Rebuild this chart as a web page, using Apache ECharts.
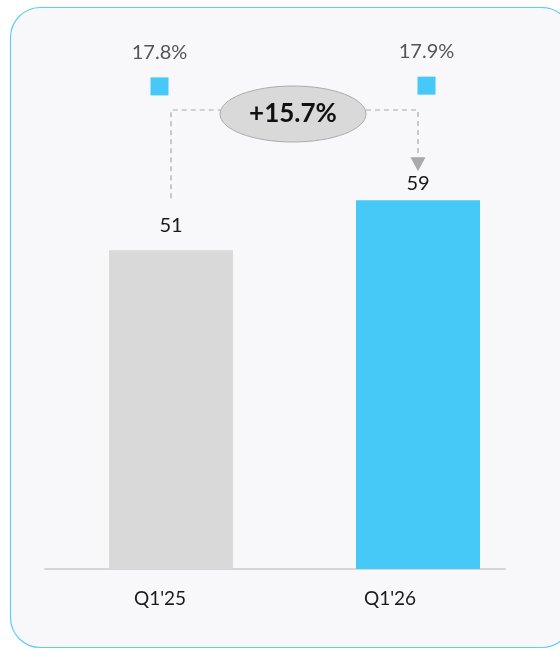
<!DOCTYPE html>
<html>
<head>
<meta charset="utf-8">
<script src="https://cdn.jsdelivr.net/npm/echarts@6/dist/echarts.min.js"></script>
<style>
  html, body { margin: 0; padding: 0; background: #ffffff; }
  #chart { width: 560px; height: 649px; }
</style>
</head>
<body>
<div id="chart"></div>
<script>
// Quarterly values and margin percentages
const categories = ["Q1'25", "Q1'26"];
const values = [51, 59];
const margins = [17.8, 17.9];
const growthLabel = '+15.7%';

const FONT = 'Lato';
const BLUE = '#46c9f6';
const GREY = '#d9d9d9';
const barColors = [GREY, BLUE];
const labelDistances = [15, 7];

const chart = echarts.init(document.getElementById('chart'), null, { renderer: 'canvas' });

const option = {
  animation: false,
  backgroundColor: '#ffffff',
  textStyle: { fontFamily: FONT },
  grid: [
    // axis labels + baseline
    { left: 45, width: 460, bottom: 80, height: 375 },
    // bars
    { left: 47.5, width: 494, bottom: 80, height: 375 },
    // margin markers
    { left: 26, width: 544, top: 70, height: 149 }
  ],
  xAxis: [
    {
      gridIndex: 0, type: 'category', data: categories,
      axisLine: { show: true, lineStyle: { color: '#d6d6d9', width: 2 } },
      axisTick: { show: false },
      axisLabel: { color: '#1a1a1a', fontSize: 19, margin: 20, fontFamily: FONT }
    },
    { gridIndex: 1, type: 'category', data: categories, show: false },
    { gridIndex: 2, type: 'category', data: categories, show: false }
  ],
  yAxis: [
    { gridIndex: 0, type: 'value', min: 0, max: 60, show: false },
    { gridIndex: 1, type: 'value', min: 0, max: 60, show: false },
    { gridIndex: 2, type: 'value', min: 0, max: 20, show: false }
  ],
  series: [
    {
      type: 'bar',
      xAxisIndex: 1, yAxisIndex: 1,
      barWidth: 124,
      data: values.map((v, i) => ({
        value: v,
        itemStyle: { color: barColors[i] },
        label: { distance: labelDistances[i] }
      })),
      label: {
        show: true, position: 'top',
        color: '#1a1a1a', fontSize: 20, fontFamily: FONT
      }
    },
    {
      type: 'scatter',
      xAxisIndex: 2, yAxisIndex: 2,
      symbol: 'rect', symbolSize: 18,
      itemStyle: { color: BLUE, opacity: 1 },
      data: margins,
      label: {
        show: true, position: 'top', distance: 15,
        formatter: p => p.value.toFixed(1) + '%',
        color: '#555555', fontSize: 20, fontFamily: FONT
      }
    }
  ]
};

chart.setOption(option);

// Card frame behind the chart, plus the growth connector built from bar positions
const topA = chart.convertToPixel({ xAxisIndex: 1, yAxisIndex: 1 }, [0, values[0]]);
const topB = chart.convertToPixel({ xAxisIndex: 1, yAxisIndex: 1 }, [1, values[1]]);
const lineY = 110;
const ell = { cx: 293, cy: 114, rx: 73, ry: 28 };
const dash = { stroke: '#a9a9a9', lineWidth: 1.2, lineDash: [5, 4] };

chart.setOption({
  graphic: [
    {
      type: 'rect', z: -10, silent: true,
      shape: { x: 10.5, y: 7.5, width: 561.5, height: 640, r: 30 },
      style: { fill: '#f8f8fb', stroke: '#5ccff5', lineWidth: 1.2 }
    },
    {
      type: 'polyline', silent: true,
      shape: { points: [[topA[0], topA[1] - 52], [topA[0], lineY], [ell.cx - ell.rx, lineY]] },
      style: Object.assign({ fill: null }, dash)
    },
    {
      type: 'polyline', silent: true,
      shape: { points: [[ell.cx + ell.rx, lineY], [topB[0], lineY], [topB[0], topB[1] - 43]] },
      style: Object.assign({ fill: null }, dash)
    },
    {
      type: 'polygon', silent: true,
      shape: { points: [[topB[0] - 7.5, topB[1] - 43], [topB[0] + 7.5, topB[1] - 43], [topB[0], topB[1] - 29]] },
      style: { fill: '#a9a9a9' }
    },
    {
      type: 'ellipse', silent: true,
      shape: ell,
      style: { fill: '#d9d9d9', stroke: '#ababab', lineWidth: 1 }
    },
    {
      type: 'text', silent: true,
      x: ell.cx, y: ell.cy,
      style: {
        text: growthLabel, fill: '#111111',
        font: 'bold 26px ' + FONT, align: 'center', verticalAlign: 'middle'
      }
    }
  ]
});
</script>
</body>
</html>
